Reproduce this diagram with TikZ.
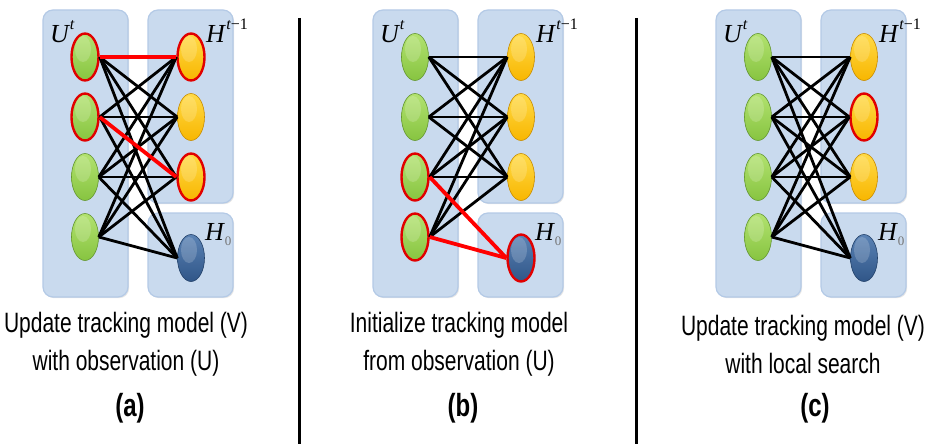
\documentclass[tikz,border=0pt]{standalone}
\usepackage{fontspec}
\setmainfont{Liberation Sans}
\newfontfamily\capfont{Liberation Sans}[FakeStretch=0.75]
\newfontfamily\mathserif{Liberation Serif}
\usetikzlibrary{shapes.geometric,shadows}

\definecolor{boxfill}{RGB}{201,218,238}
\definecolor{boxline}{RGB}{180,202,230}
\definecolor{grnbase}{RGB}{135,196,64}
\definecolor{grnlight}{RGB}{178,226,112}
\definecolor{grnrim}{RGB}{100,150,50}
\definecolor{ylwbase}{RGB}{248,182,0}
\definecolor{ylwlight}{RGB}{255,218,70}
\definecolor{ylwrim}{RGB}{200,140,0}
\definecolor{blubase}{RGB}{48,86,136}
\definecolor{blulight}{RGB}{90,130,180}
\definecolor{blurim}{RGB}{35,65,105}
\definecolor{hotred}{RGB}{225,0,0}
\definecolor{linkred}{RGB}{255,0,0}

% variable labels set in a Times-like italic
\newcommand\labU{{\mathserif\fontsize{26}{26}\selectfont\itshape U\kern1pt\raisebox{13pt}{\fontsize{16}{16}\selectfont t}}}
\newcommand\labH{{\mathserif\fontsize{26}{26}\selectfont\itshape H\kern1.5pt\raisebox{13pt}{\fontsize{16}{16}\selectfont t\upshape −1}}}
\newcommand\labHz{{\mathserif\fontsize{26}{26}\selectfont\itshape H\kern1pt\raisebox{-5pt}{\fontsize{13}{13}\selectfont\upshape\color{black!55}0}}}

\tikzset{
  panelbox/.style={draw=boxline, line width=1.2pt, fill=boxfill, rounded corners=10pt,
    inner sep=0pt, drop shadow={shadow xshift=1.2pt, shadow yshift=-1.2pt, opacity=0.2}},
  vertex/.style={ellipse, minimum width=27pt, minimum height=47pt, inner sep=0pt,
    line width=0.6pt,
    path picture={\fill[white,opacity=0.18]
      ([xshift=-2pt,yshift=8pt]path picture bounding box.center) ellipse (8pt and 13pt);}},
  obs/.style={vertex, draw=grnrim, top color=grnlight, bottom color=grnbase},
  trk/.style={vertex, draw=ylwrim, top color=ylwlight, bottom color=ylwbase},
  nul/.style={vertex, draw=blurim, top color=blulight, bottom color=blubase},
  hot/.style={draw=hotred, line width=2.4pt},
  link/.style={line width=2.8pt, black},
  hotlink/.style={line width=3.8pt, linkred},
  varlabel/.style={anchor=base west, inner sep=0pt},
  caption/.style={font=\capfont\fontsize{28}{38}\selectfont, align=center, inner sep=0pt},
  tag/.style={font=\capfont\bfseries\fontsize{32}{32}\selectfont, inner sep=0pt},
  separator/.style={line width=3.5pt, black},
  pu1/.style={}, pu2/.style={}, pu3/.style={}, pu4/.style={},
  py1/.style={}, py2/.style={}, py3/.style={}, ph0/.style={},
}

% one bipartite cluster: observation column, tracked column and null node
\newcommand\clusterbody{%
  \node[panelbox, minimum width=85pt, minimum height=287pt] (boxu) at (85.5,153.5) {};
  \node[panelbox, minimum width=85pt, minimum height=193pt] (boxh) at (190.5,106.5) {};
  \node[panelbox, minimum width=85pt, minimum height=84pt] (boxz) at (190.5,255) {};
  \node[varlabel] (lu) at (50,42) {\labU};
  \node[varlabel] (lh) at (206,42) {\labH};
  \node[varlabel] (lz) at (205,240) {\labHz};
  \node[obs, pu1] (u1) at (85,57) {};
  \node[obs, pu2] (u2) at (85,117) {};
  \node[obs, pu3] (u3) at (85,177) {};
  \node[obs, pu4] (u4) at (85,237) {};
  \node[trk, py1] (y1) at (191,57) {};
  \node[trk, py2] (y2) at (191,117) {};
  \node[trk, py3] (y3) at (191,177) {};
  \node[nul, ph0] (h0) at (191,258) {};
}

\begin{document}
\begin{tikzpicture}[x=1pt, y=-1pt]
\useasboundingbox (0,0) rectangle (928,444);

% (a) update with observation
\begin{scope}[name prefix=a-, pu1/.style=hot, pu2/.style=hot, py1/.style=hot, py3/.style=hot]
  \clusterbody
  \foreach \s/\t in {u1/y2,u1/y3,u1/h0,u2/y1,u2/y2,u2/h0,u3/y1,u3/y2,u3/y3,u3/h0,u4/y1,u4/y2,u4/y3,u4/h0}
    \draw[link] (\s.east) -- (\t.west);
  \draw[hotlink] (u1.east) -- (y1.west);
  \draw[hotlink] (u2.east) -- (y3.west);
\end{scope}

% (b) initialise from observation
\begin{scope}[shift={(330,0)}, name prefix=b-, pu3/.style=hot, pu4/.style=hot, ph0/.style=hot]
  \clusterbody
  \foreach \s in {u1,u2,u3,u4}
    \foreach \t in {y1,y2,y3}
      \draw[link] (\s.east) -- (\t.west);
  \draw[hotlink] (u3.east) -- (h0.west);
  \draw[hotlink] (u4.east) -- (h0.west);
\end{scope}

% (c) update with local search
\begin{scope}[shift={(673,0)}, name prefix=c-, py2/.style=hot]
  \clusterbody
  \foreach \s in {u1,u2,u3,u4}
    \foreach \t in {y1,y2,y3,h0}
      \draw[link] (\s.east) -- (\t.west);
\end{scope}

% captions
\node[caption] (capa) at (126,344) {Update tracking model (V)\\with observation (U)};
\node[caption] (capb) at (459,344) {Initialize tracking model\\from observation (U)};
\node[caption] (capc) at (803,344) {Update tracking model (V)\\with local search};
\node[tag] (taga) at (130,408) {(a)};
\node[tag] (tagb) at (463,408) {(b)};
\node[tag] (tagc) at (815,408) {(c)};

% panel separators
\draw[separator] (299.5,18) -- (299.5,444);
\draw[separator] (636.7,18) -- (636.7,444);
\end{tikzpicture}
\end{document}
